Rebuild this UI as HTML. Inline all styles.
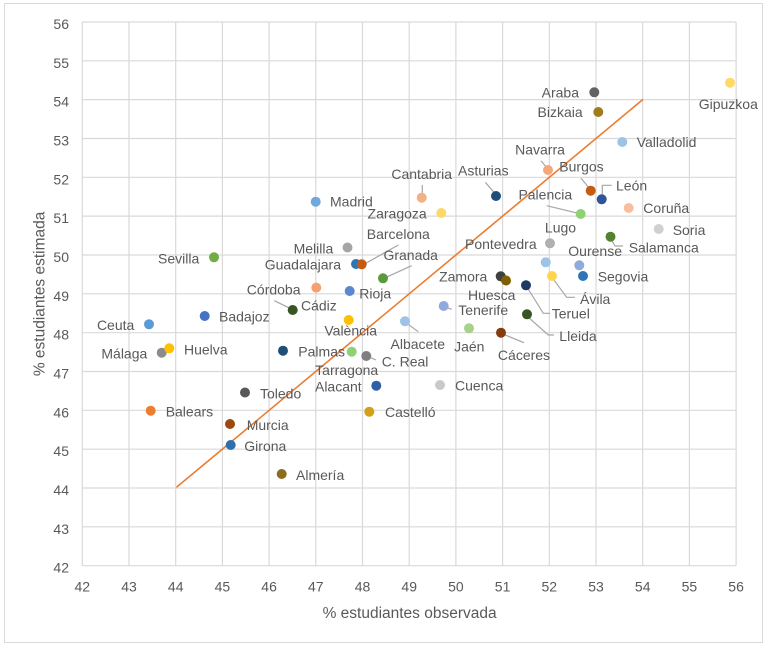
<!DOCTYPE html>
<html>
<head>
<meta charset="utf-8">
<style>
html,body{margin:0;padding:0;background:#fff;}
svg{display:block;}
text{font-family:"Liberation Sans",Arial,sans-serif;fill:#595959;}
</style>
</head>
<body>
<svg width="768" height="647" viewBox="0 0 768 647" xmlns="http://www.w3.org/2000/svg">
<rect x="4.5" y="3.5" width="758" height="639" fill="#fff" stroke="#d9d9d9" stroke-width="1"/>
<g stroke="#d9d9d9" stroke-width="1.2" fill="none">
<line x1="82.3" y1="22" x2="82.3" y2="565.7"/>
<line x1="129" y1="22" x2="129" y2="565.7"/>
<line x1="175.7" y1="22" x2="175.7" y2="565.7"/>
<line x1="222.4" y1="22" x2="222.4" y2="565.7"/>
<line x1="269.1" y1="22" x2="269.1" y2="565.7"/>
<line x1="315.8" y1="22" x2="315.8" y2="565.7"/>
<line x1="362.5" y1="22" x2="362.5" y2="565.7"/>
<line x1="409.2" y1="22" x2="409.2" y2="565.7"/>
<line x1="455.9" y1="22" x2="455.9" y2="565.7"/>
<line x1="502.6" y1="22" x2="502.6" y2="565.7"/>
<line x1="549.3" y1="22" x2="549.3" y2="565.7"/>
<line x1="596" y1="22" x2="596" y2="565.7"/>
<line x1="642.7" y1="22" x2="642.7" y2="565.7"/>
<line x1="689.4" y1="22" x2="689.4" y2="565.7"/>
<line x1="736.1" y1="22" x2="736.1" y2="565.7"/>
<line x1="82.3" y1="22" x2="736.1" y2="22"/>
<line x1="82.3" y1="60.8" x2="736.1" y2="60.8"/>
<line x1="82.3" y1="99.6" x2="736.1" y2="99.6"/>
<line x1="82.3" y1="138.5" x2="736.1" y2="138.5"/>
<line x1="82.3" y1="177.3" x2="736.1" y2="177.3"/>
<line x1="82.3" y1="216.1" x2="736.1" y2="216.1"/>
<line x1="82.3" y1="255" x2="736.1" y2="255"/>
<line x1="82.3" y1="293.8" x2="736.1" y2="293.8"/>
<line x1="82.3" y1="332.7" x2="736.1" y2="332.7"/>
<line x1="82.3" y1="371.5" x2="736.1" y2="371.5"/>
<line x1="82.3" y1="410.3" x2="736.1" y2="410.3"/>
<line x1="82.3" y1="449.2" x2="736.1" y2="449.2"/>
<line x1="82.3" y1="488" x2="736.1" y2="488"/>
<line x1="82.3" y1="526.8" x2="736.1" y2="526.8"/>
<line x1="82.3" y1="565.7" x2="736.1" y2="565.7"/>
</g>
<g font-size="14" text-anchor="end">
<text x="69" y="29">56</text>
<text x="69" y="67.8">55</text>
<text x="69" y="106.6">54</text>
<text x="69" y="145.5">53</text>
<text x="69" y="184.3">52</text>
<text x="69" y="223.1">51</text>
<text x="69" y="262">50</text>
<text x="69" y="300.8">49</text>
<text x="69" y="339.7">48</text>
<text x="69" y="378.5">47</text>
<text x="69" y="417.3">46</text>
<text x="69" y="456.2">45</text>
<text x="69" y="495">44</text>
<text x="69" y="533.8">43</text>
<text x="69" y="572.7">42</text>
</g>
<g font-size="14" text-anchor="middle">
<text x="82.3" y="591.7">42</text>
<text x="129" y="591.7">43</text>
<text x="175.7" y="591.7">44</text>
<text x="222.4" y="591.7">45</text>
<text x="269.1" y="591.7">46</text>
<text x="315.8" y="591.7">47</text>
<text x="362.5" y="591.7">48</text>
<text x="409.2" y="591.7">49</text>
<text x="455.9" y="591.7">50</text>
<text x="502.6" y="591.7">51</text>
<text x="549.3" y="591.7">52</text>
<text x="596" y="591.7">53</text>
<text x="642.7" y="591.7">54</text>
<text x="689.4" y="591.7">55</text>
<text x="736.1" y="591.7">56</text>
</g>
<text x="409.6" y="618" font-size="15.5" text-anchor="middle">% estudiantes observada</text>
<text transform="translate(44.5,293.9) rotate(-90)" font-size="15.5" text-anchor="middle">% estudiantes estimada</text>

<line x1="176.5" y1="487.3" x2="643" y2="99.4" stroke="#ed7d31" stroke-width="1.6"/>

<g stroke="#a6a6a6" stroke-width="1.2" fill="none">
<polyline points="541,160.7 546,166.7"/>
<polyline points="581,178.3 589.3,188.3"/>
<polyline points="602.3,196.7 602.3,185.3 611.7,185.3"/>
<polyline points="546.7,205.7 578.3,213.3"/>
<polyline points="611,239 615,246 623,246"/>
<polyline points="552.7,278.3 566.7,297.3 575,297.3"/>
<polyline points="526.7,286.7 543.3,313.3 550,313.3"/>
<polyline points="527.7,316.7 548.3,335 554,335"/>
<polyline points="445,307 451.7,309.3"/>
<polyline points="502.7,334 524,342.7"/>
<polyline points="406.7,323.3 418.3,331.7"/>
<polyline points="422.3,185 422.3,193.3"/>
<polyline points="485.3,182.3 494.3,192.7"/>
<polyline points="364,264.3 398.3,245"/>
<polyline points="385.3,277.7 411.7,265.7"/>
<polyline points="274.3,300.7 290,308.3"/>
<polyline points="368.3,356.7 376,360"/>
</g>

<g>
<circle cx="730" cy="82.7" r="5" fill="#ffd966"/>
<circle cx="594.3" cy="92.3" r="5" fill="#636363"/>
<circle cx="598.3" cy="112" r="5" fill="#a07c1c"/>
<circle cx="622.3" cy="142" r="5" fill="#9dc3e6"/>
<circle cx="548" cy="170" r="5" fill="#f4a77a"/>
<circle cx="590.7" cy="190.7" r="5" fill="#c55a11"/>
<circle cx="601.7" cy="199.3" r="5" fill="#2f5597"/>
<circle cx="628.7" cy="208" r="5" fill="#f8bf9e"/>
<circle cx="580.7" cy="214" r="5" fill="#8fd175"/>
<circle cx="658.7" cy="229" r="5" fill="#d0d0d0"/>
<circle cx="550" cy="243.3" r="5" fill="#b0b0b0"/>
<circle cx="610.5" cy="236.7" r="5" fill="#548235"/>
<circle cx="496" cy="196" r="5" fill="#1f4e79"/>
<circle cx="421.7" cy="197.7" r="5" fill="#f4b183"/>
<circle cx="315.7" cy="201.7" r="5" fill="#6fa8dc"/>
<circle cx="441.3" cy="213" r="5" fill="#ffd966"/>
<circle cx="347.5" cy="247.5" r="5" fill="#a5a5a5"/>
<circle cx="356" cy="264" r="5" fill="#2e75b6"/>
<circle cx="361.7" cy="264.3" r="5" fill="#c55a11"/>
<circle cx="383" cy="278.3" r="5" fill="#5a9a3a"/>
<circle cx="316.3" cy="287.6" r="5" fill="#f4a070"/>
<circle cx="349.7" cy="291" r="5" fill="#5b87d0"/>
<circle cx="214" cy="257.3" r="5" fill="#70ad47"/>
<circle cx="292.7" cy="310" r="5" fill="#375623"/>
<circle cx="204.7" cy="316" r="5" fill="#4472c4"/>
<circle cx="149" cy="324.3" r="5" fill="#5b9bd5"/>
<circle cx="348.7" cy="320" r="5" fill="#ffc000"/>
<circle cx="405" cy="321.3" r="5" fill="#9dc3e6"/>
<circle cx="161.7" cy="352.7" r="5" fill="#8c8c8c"/>
<circle cx="169.3" cy="348.3" r="5" fill="#ffc000"/>
<circle cx="283" cy="350.7" r="5" fill="#1f4e79"/>
<circle cx="351.7" cy="351.7" r="5" fill="#8fd175"/>
<circle cx="366.3" cy="356" r="5" fill="#7f7f7f"/>
<circle cx="376.3" cy="385.7" r="5" fill="#2f5fa8"/>
<circle cx="245" cy="392.5" r="5" fill="#595959"/>
<circle cx="440" cy="385" r="5" fill="#c9c9c9"/>
<circle cx="150.7" cy="410.7" r="5" fill="#ed7d31"/>
<circle cx="369.3" cy="411.7" r="5" fill="#d4a017"/>
<circle cx="230" cy="424" r="5" fill="#9e480e"/>
<circle cx="230.7" cy="445" r="5" fill="#2e6fae"/>
<circle cx="281.7" cy="474" r="5" fill="#8c6d1f"/>
<circle cx="545.7" cy="262.3" r="5" fill="#9dc3e6"/>
<circle cx="579.3" cy="265.3" r="5" fill="#8faadc"/>
<circle cx="583" cy="276" r="5" fill="#2e75b6"/>
<circle cx="552" cy="276" r="5" fill="#ffd54f"/>
<circle cx="500.7" cy="276.3" r="5" fill="#404040"/>
<circle cx="506" cy="280.5" r="5" fill="#7f6000"/>
<circle cx="526" cy="285.3" r="5" fill="#203864"/>
<circle cx="443.7" cy="306" r="5" fill="#8faadc"/>
<circle cx="527" cy="314.3" r="5" fill="#375623"/>
<circle cx="469" cy="328.3" r="5" fill="#a9d18e"/>
<circle cx="501" cy="332.7" r="5" fill="#843c0c"/>
</g>

<g font-size="14">
<text x="579" y="97.3" text-anchor="end">Araba</text>
<text x="582.7" y="117" text-anchor="end">Bizkaia</text>
<text x="728.3" y="109" text-anchor="middle">Gipuzkoa</text>
<text x="636.7" y="147">Valladolid</text>
<text x="540" y="154.3" text-anchor="middle">Navarra</text>
<text x="559.3" y="171.7">Burgos</text>
<text x="616" y="190.7">León</text>
<text x="643.3" y="213">Coruña</text>
<text x="545.3" y="199.7" text-anchor="middle">Palencia</text>
<text x="672.7" y="235">Soria</text>
<text x="560.5" y="232.5" text-anchor="middle">Lugo</text>
<text x="628.7" y="252.3">Salamanca</text>
<text x="568.3" y="256">Ourense</text>
<text x="465" y="249">Pontevedra</text>
<text x="597.7" y="281.7">Segovia</text>
<text x="580" y="304">Ávila</text>
<text x="487.3" y="281.7" text-anchor="end">Zamora</text>
<text x="491.7" y="300" text-anchor="middle">Huesca</text>
<text x="551.7" y="318.3">Teruel</text>
<text x="458.3" y="315">Tenerife</text>
<text x="559.3" y="341">Lleida</text>
<text x="469.3" y="351.7" text-anchor="middle">Jaén</text>
<text x="524" y="360" text-anchor="middle">Cáceres</text>
<text x="445" y="349" text-anchor="end">Albacete</text>
<text x="381.7" y="366.7">C. Real</text>
<text x="421.7" y="179" text-anchor="middle">Cantabria</text>
<text x="483.3" y="175.7" text-anchor="middle">Asturias</text>
<text x="330" y="206.7">Madrid</text>
<text x="426.7" y="218.7" text-anchor="end">Zaragoza</text>
<text x="398.3" y="239" text-anchor="middle">Barcelona</text>
<text x="333.3" y="253.3" text-anchor="end">Melilla</text>
<text x="341" y="269.3" text-anchor="end">Guadalajara</text>
<text x="410.7" y="260" text-anchor="middle">Granada</text>
<text x="300.5" y="294.5" text-anchor="end">Córdoba</text>
<text x="359.3" y="298.3">Rioja</text>
<text x="199.3" y="263.3" text-anchor="end">Sevilla</text>
<text x="301" y="310.7">Cádiz</text>
<text x="219" y="321.7">Badajoz</text>
<text x="134.3" y="330" text-anchor="end">Ceuta</text>
<text x="350.7" y="335.7" text-anchor="middle">València</text>
<text x="147.3" y="358.3" text-anchor="end">Málaga</text>
<text x="184" y="354.3">Huelva</text>
<text x="298.3" y="356.3">Palmas</text>
<text x="346.7" y="375" text-anchor="middle">Tarragona</text>
<text x="361.7" y="391.7" text-anchor="end">Alacant</text>
<text x="260" y="398.3">Toledo</text>
<text x="455" y="390.7">Cuenca</text>
<text x="165.7" y="416.7">Balears</text>
<text x="385" y="417">Castelló</text>
<text x="246.7" y="430">Murcia</text>
<text x="244.3" y="451">Girona</text>
<text x="296" y="480">Almería</text>
</g>
</svg>
</body>
</html>
